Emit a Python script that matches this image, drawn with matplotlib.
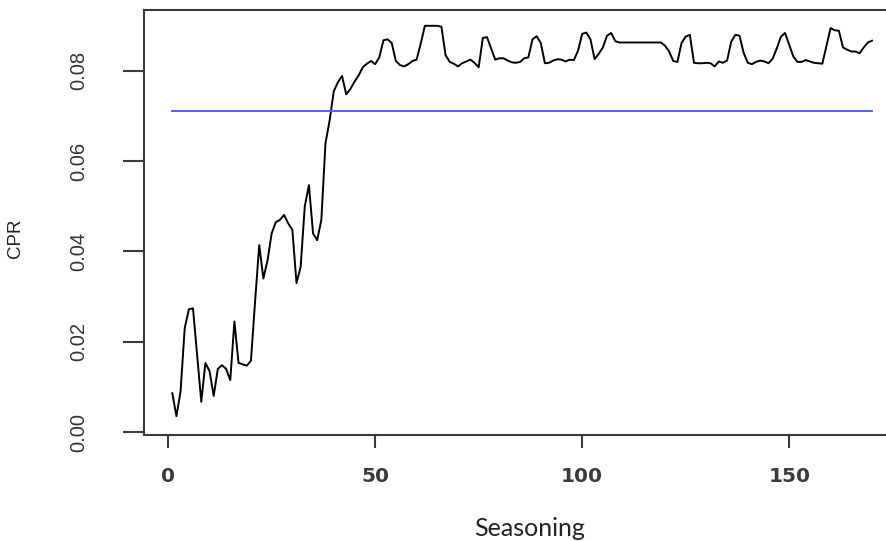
import matplotlib
matplotlib.use('Agg')
import matplotlib.pyplot as pl
import numpy as np

# monthly CPR by loan age (seasoning, months 1..170)
seasoning = np.arange(1, 171)
cpr = [
    0.0086, 0.0035, 0.0090, 0.0230, 0.0272, 0.0274, 0.0170, 0.0067, 0.0153, 0.0135,
    0.0080, 0.0140, 0.0148, 0.0140, 0.0115, 0.0245, 0.0153, 0.0150, 0.0147, 0.0158,
    0.0290, 0.0414, 0.0340, 0.0380, 0.0440, 0.0465, 0.0470, 0.0481, 0.0462, 0.0448,
    0.0330, 0.0366, 0.0500, 0.0547, 0.0440, 0.0425, 0.0470, 0.0640, 0.0690, 0.0755,
    0.0775, 0.0789, 0.0748, 0.0760, 0.0776, 0.0790, 0.0808, 0.0816, 0.0822, 0.0815,
    0.0830, 0.0868, 0.0870, 0.0862, 0.0822, 0.0813, 0.0810, 0.0815, 0.0822, 0.0825,
    0.0860, 0.0900, 0.0900, 0.0900, 0.0900, 0.0898, 0.0835, 0.0820, 0.0816, 0.0810,
    0.0817, 0.0821, 0.0825, 0.0818, 0.0808, 0.0873, 0.0875, 0.0850, 0.0825, 0.0828,
    0.0828, 0.0823, 0.0819, 0.0818, 0.0820, 0.0828, 0.0830, 0.0870, 0.0877, 0.0862,
    0.0817, 0.0818, 0.0823, 0.0826, 0.0825, 0.0821, 0.0825, 0.0824, 0.0845, 0.0882,
    0.0885, 0.0870, 0.0826, 0.0838, 0.0852, 0.0878, 0.0884, 0.0866, 0.0863, 0.0863,
    0.0863, 0.0863, 0.0863, 0.0863, 0.0863, 0.0863, 0.0863, 0.0863, 0.0863, 0.0856,
    0.0843, 0.0822, 0.0820, 0.0862, 0.0876, 0.0880, 0.0818, 0.0817, 0.0817, 0.0818,
    0.0817, 0.0810, 0.0821, 0.0818, 0.0823, 0.0865, 0.0880, 0.0878, 0.0840, 0.0818,
    0.0815, 0.0820, 0.0823, 0.0821, 0.0817, 0.0827, 0.0850, 0.0876, 0.0884, 0.0858,
    0.0832, 0.0820, 0.0820, 0.0824, 0.0821, 0.0818, 0.0817, 0.0816, 0.0855, 0.0895,
    0.0890, 0.0889, 0.0852, 0.0847, 0.0843, 0.0843, 0.0839, 0.0852, 0.0863, 0.0867,
]
cpr_ref = 0.0712

xticks = [0, 50, 100, 150]
yticks = [0.00, 0.02, 0.04, 0.06, 0.08]
ytick_labels = ['0.00', '0.02', '0.04', '0.06', '0.08']

W, H = 887, 541
fig = pl.figure(figsize=(W / 100., H / 100.), dpi=100, facecolor='white')

# plot region in pixels; the right edge runs past the canvas
left, right, top, bottom = 144.3, 900.0, 10.0, 434.5
ax = fig.add_axes([left / W, 1 - bottom / H, (right - left) / W, (bottom - top) / H])

ax.plot(seasoning, cpr, color='black', lw=1.4)
ax.plot(seasoning, np.full(len(seasoning), cpr_ref), color='#5a5aff', lw=1.4)

ax.set_xlim(-5.76, 176.76)
ax.set_ylim(-0.00055, 0.0935)

for sp in ax.spines.values():
    sp.set_color('#3a3a3a')
    sp.set_linewidth(1.5)

ax.set_xticks(xticks)
ax.set_xticklabels([str(t) for t in xticks], fontfamily='DejaVu Sans',
                   fontweight='bold', fontsize=14.5, color='#3a3a3a')
ax.tick_params(axis='x', length=9.5, width=1.5, color='#3a3a3a', pad=14)

ax.set_yticks(yticks)
ax.set_yticklabels(ytick_labels, rotation=90, va='center',
                   fontfamily='Liberation Sans', fontsize=14.5, color='#333333')
ax.tick_params(axis='y', length=15, width=1.5, color='#3a3a3a', pad=25)

ax.set_ylabel('CPR', fontfamily='Liberation Sans', fontsize=13.5, color='#222222')
ax.yaxis.set_label_coords((24 - left) / (right - left), (bottom - 238) / (bottom - top))

ax.set_xlabel('Seasoning', fontfamily='Lato', fontsize=18, color='#222222', va='center')
ax.xaxis.set_label_coords((530 - left) / (right - left), (bottom - 528) / (bottom - top))

fig.savefig('out.png', dpi=100, facecolor='white')
